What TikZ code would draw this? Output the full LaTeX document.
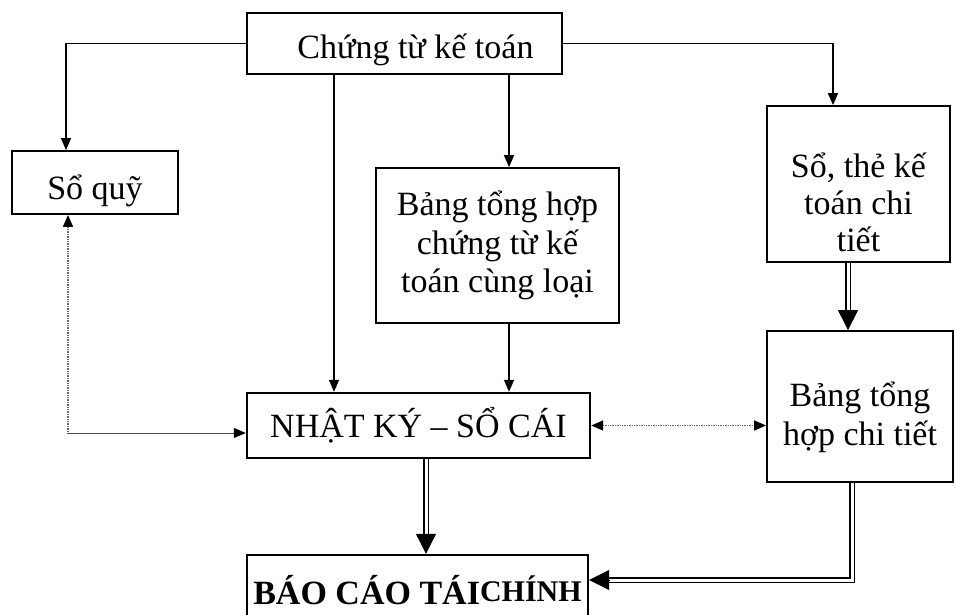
\documentclass[tikz,border=0pt]{standalone}
\usepackage{fontspec}
\setmainfont{Liberation Serif}
\usetikzlibrary{arrows.meta,calc}
\begin{document}
\begin{tikzpicture}[x=1pt,y=-1pt,
 box/.style={draw, line width=1.8pt, rectangle, inner sep=0pt, align=center, font=\fontsize{34}{38.5}\selectfont},
 txt/.style={inner sep=0pt, align=center, font=\fontsize{34}{37}\selectfont},
 conn/.style={line width=1.5pt, -{Triangle[width=10pt,length=12pt]}},
 dotl/.style={line width=1.4pt, densely dotted, black!60},
 thinl/.style={line width=1pt, black!70},
 dbl/.style={double, double distance=3pt, line width=1.5pt},
 bigtip/.style={-{Triangle[width=20pt,length=20pt]}, line width=1pt}]
\useasboundingbox (0,0) rectangle (955,614);
\node[box, minimum width=315pt, minimum height=61pt, text height=38pt, text depth=8pt] (top) at (404.5,43.5) {\hspace*{22pt}Chứng từ kế toán};
\node[box, minimum width=166pt, minimum height=63pt, text height=40pt, text depth=7pt] (soquy) at (95,182.5) {Sổ quỹ};
\node[box, minimum width=243pt, minimum height=155pt] (bth1) at (497.5,245.5) {Bảng tổng hợp\\chứng từ kế\\toán cùng loại};
\node[box, minimum width=183pt, minimum height=156pt] (sothe) at (858.5,184) {};
\node[txt] (sotheT) at ($(sothe.center)+(0,18)$) {Sổ, thẻ kế\\toán chi\\tiết};
\node[box, minimum width=186pt, minimum height=151pt] (bth2) at (860,406.5) {};
\node[txt, font=\fontsize{34}{39}\selectfont] (bth2T) at ($(bth2.center)+(0,11)$) {Bảng tổng\\hợp chi tiết};
\node[box, line width=2.4pt, minimum width=343pt, minimum height=65pt] (nk) at (418.5,425.5) {NHẬT KÝ – SỔ CÁI};
\node[box, line width=2.4pt, minimum width=341pt, minimum height=70pt] (bc) at (417.5,590) {\textbf{BÁO CÁO TÁI}\raisebox{3pt}{\textbf{\fontsize{30}{30}\selectfont CHÍNH}}};
% connectors from top
\coordinate (ql) at (66,0);
\coordinate (qr) at (833,0);
\coordinate (v1) at (334,0);
\coordinate (v2) at (509,0);
\draw[conn] (top.west) -| (soquy.north -| ql);
\draw[conn] (top.east) -| (sothe.north -| qr);
\draw[conn] (top.south -| v1) -- (nk.north -| v1);
\draw[conn] (top.south -| v2) -- (bth1.north -| v2);
\draw[conn] (bth1.south -| v2) -- (nk.north -| v2);
% so quy dotted
\coordinate (sq) at (68,433);
\draw[dotl, {Triangle[width=10pt,length=12pt,color=black]}-] (soquy.south -| sq) -- (sq);
\draw[thinl, -{Triangle[width=10pt,length=12pt,color=black]}] (sq) -- (nk.west |- sq);
% nk <-> bth2
\draw[dotl, {Triangle[width=10pt,length=12pt,color=black]}-{Triangle[width=10pt,length=12pt,color=black]}] (nk.east) -- (bth2.west |- nk.east);
% double arrows
\coordinate (d1) at (426,0);
\draw[dbl, shorten >=18pt] (nk.south -| d1) -- (bc.north -| d1);
\draw[bigtip] ($(bc.north -| d1)+(0,-20)$) -- (bc.north -| d1);
\coordinate (d2) at (848,0);
\draw[dbl, shorten >=18pt] (sothe.south -| d2) -- (bth2.north -| d2);
\draw[bigtip] ($(bth2.north -| d2)+(0,-20)$) -- (bth2.north -| d2);
\coordinate (d3) at (852,580);
\draw[dbl, shorten >=18pt] (bth2.south -| d3) -- (d3) -- (bc.east |- d3);
\draw[bigtip] ($(bc.east |- d3)+(20,0)$) -- (bc.east |- d3);
\end{tikzpicture}
\end{document}
